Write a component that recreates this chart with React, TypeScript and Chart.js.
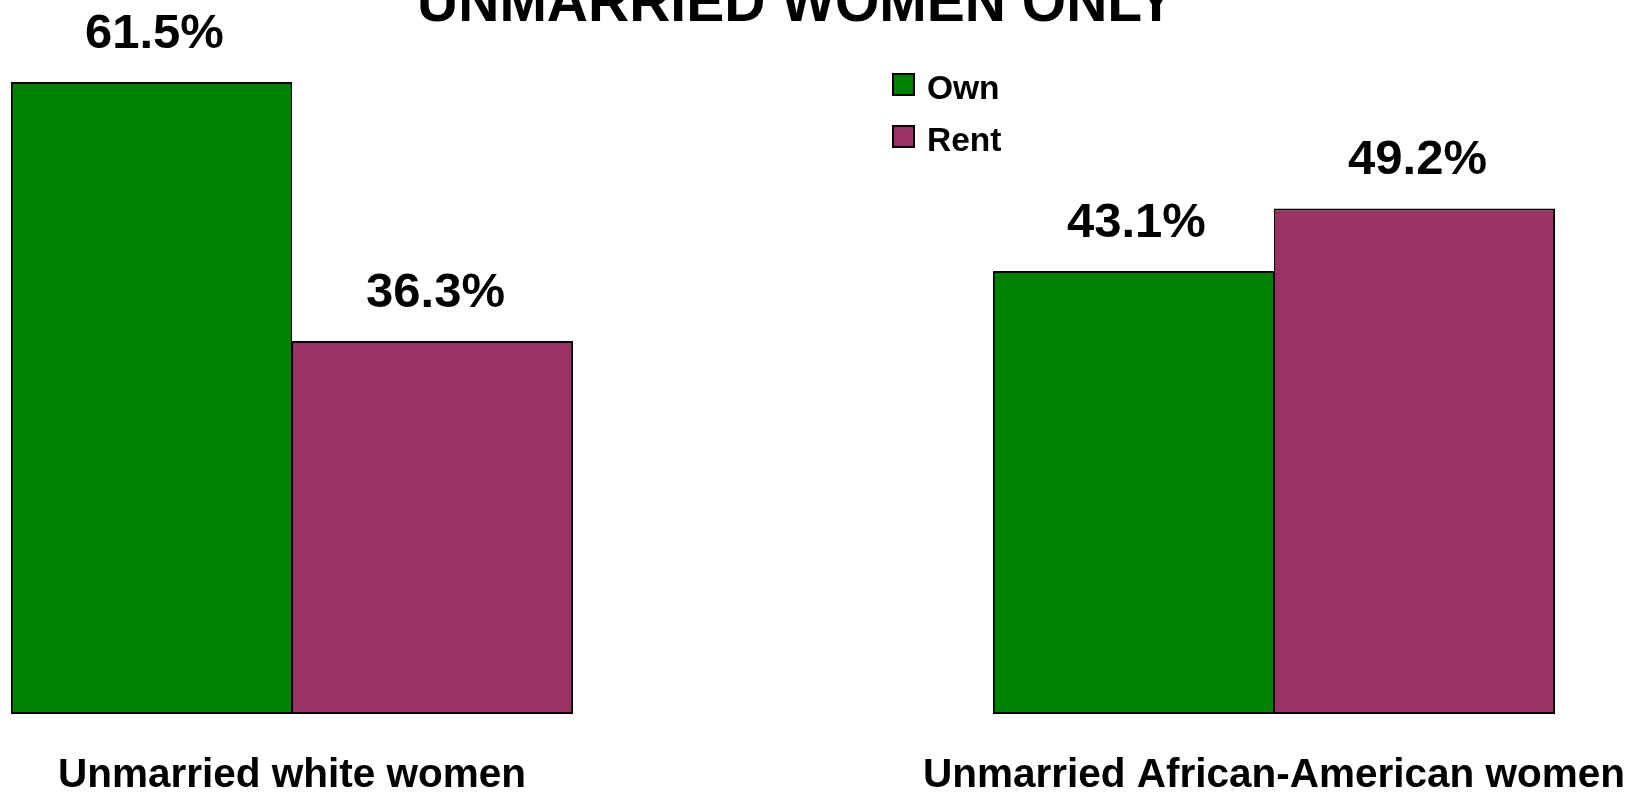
import React, { useEffect, useRef } from "react";
import { Chart, registerables } from "chart.js";

Chart.register(...registerables);

const categories = ["Unmarried white women", "Unmarried African-American women"];
const seriesNames = ["Own", "Rent"];
const ownValues = [61.5, 43.1];
const rentValues = [36.3, 49.2];
const seriesColors = ["#008000", "#993366"];
const titleText = "UNMARRIED WOMEN ONLY";

const FONT = '"Liberation Sans", Arial, Helvetica, sans-serif';

const textPlugin = {
  id: "customText",
  afterDatasetsDraw(chart: any) {
    const ctx = chart.ctx;
    ctx.save();
    ctx.fillStyle = "#000";
    ctx.textAlign = "center";
    ctx.textBaseline = "alphabetic";
    ctx.font = `bold 49px ${FONT}`;
    chart.data.datasets.forEach((ds: any, di: number) => {
      const meta = chart.getDatasetMeta(di);
      meta.data.forEach((el: any, i: number) => {
        const v = ds.data[i].y;
        ctx.fillText(v.toFixed(1) + "%", el.x + 3, el.y - 34);
      });
    });
    // title
    ctx.font = `bold 57px ${FONT}`;
    ctx.fillText(titleText, 796, 21);
    // legend
    ctx.textAlign = "left";
    ctx.font = `bold 33.5px ${FONT}`;
    chart.data.datasets.forEach((ds: any, di: number) => {
      const top = 74 + di * 52;
      ctx.fillStyle = ds.backgroundColor;
      ctx.fillRect(893, top, 21, 21);
      ctx.lineWidth = 2;
      ctx.strokeStyle = "#000";
      ctx.strokeRect(893, top, 21, 21);
      ctx.fillStyle = "#000";
      ctx.fillText(ds.label, 927, top + 25);
    });
    ctx.restore();
  },
};

export default function App() {
  const canvasRef = useRef<HTMLCanvasElement | null>(null);

  useEffect(() => {
    const canvas = canvasRef.current;
    if (!canvas) return;
    const chart = new Chart(canvas, {
      type: "bar",
      data: {
        datasets: [
          {
            label: seriesNames[0],
            data: ownValues.map((y, i) => ({ x: i, y })),
            backgroundColor: seriesColors[0],
            borderColor: "#000",
            borderWidth: { top: 2, bottom: 2, left: 2, right: 1 },
            borderSkipped: false,
            categoryPercentage: 0.5725,
            barPercentage: 1,
          },
          {
            label: seriesNames[1],
            data: rentValues.map((y, i) => ({ x: i, y })),
            backgroundColor: seriesColors[1],
            borderColor: "#000",
            borderWidth: { top: 2, bottom: 2, left: 1, right: 2 },
            borderSkipped: false,
            categoryPercentage: 0.5725,
            barPercentage: 1,
          },
        ],
      } as any,
      options: {
        animation: false,
        responsive: false,
        layout: { padding: { top: 46, bottom: -45, left: 0, right: 0 } },
        plugins: {
          legend: { display: false },
          title: { display: false },
          tooltip: { enabled: false },
        },
        scales: {
          x: {
            type: "linear",
            offset: false,
            min: -0.29735,
            max: 1.36354,
            grid: { display: false, drawTicks: false },
            border: { display: false },
            afterBuildTicks: (axis: any) => {
              axis.ticks = categories.map((_, i) => ({ value: i }));
            },
            ticks: {
              autoSkip: false,
              maxRotation: 0,
              minRotation: 0,
              padding: 0,
              color: "#000",
              font: { family: FONT, size: 40.5, weight: "bold", lineHeight: "124px" },
              callback: (value: any) => categories[Math.round(Number(value))],
            },
          },
          y: {
            display: false,
            min: 0,
            max: 65,
          },
        },
      } as any,
      plugins: [textPlugin],
    });
    return () => chart.destroy();
  }, []);

  return (
    <div style={{ position: "fixed", left: 0, top: 0, width: 1631, height: 793, background: "#fff", overflow: "hidden" }}>
      <canvas ref={canvasRef} width={1631} height={793} style={{ display: "block" }} />
    </div>
  );
}
